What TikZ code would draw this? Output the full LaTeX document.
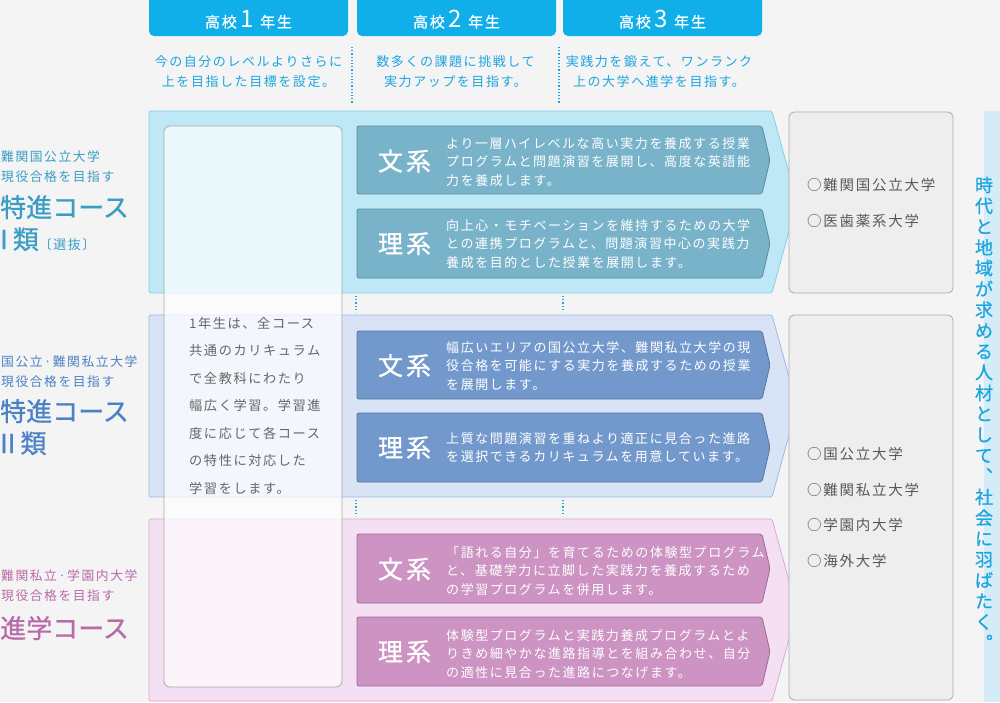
\documentclass[tikz,border=0pt]{standalone}
\usepackage{fontspec}
\setmainfont{Noto Sans CJK JP}
\newfontfamily\jp[LetterSpace=12]{Noto Sans CJK JP}
\newfontfamily\jpm[LetterSpace=12,FakeBold=0.8]{Noto Sans CJK JP}
\newfontfamily\jpmt[FakeBold=0.8]{Noto Sans CJK JP}
\usepackage{tikz}

\definecolor{pagebg}{HTML}{F4F4F4}
\definecolor{sky}{HTML}{10AFE9}
\definecolor{skytext}{HTML}{1CA5DF}
\definecolor{bandIfill}{HTML}{BFE8F7}
\definecolor{bandIline}{HTML}{86CFEB}
\definecolor{boxIfill}{HTML}{79B3CA}
\definecolor{boxIline}{HTML}{5B8CA0}
\definecolor{ttlI}{HTML}{3A9DC4}
\definecolor{bandIIfill}{HTML}{D8E4F5}
\definecolor{bandIIline}{HTML}{9DBAE3}
\definecolor{boxIIfill}{HTML}{7399CC}
\definecolor{boxIIline}{HTML}{56749F}
\definecolor{ttlII}{HTML}{4D81C5}
\definecolor{bandIIIfill}{HTML}{F4DFF3}
\definecolor{bandIIIline}{HTML}{D7ABD4}
\definecolor{boxIIIfill}{HTML}{CC93C3}
\definecolor{boxIIIline}{HTML}{9D6A95}
\definecolor{ttlIII}{HTML}{B96AA9}
\definecolor{goalfill}{HTML}{EEEEEE}
\definecolor{goalline}{HTML}{ABABAB}
\definecolor{goaltext}{HTML}{595959}
\definecolor{commonline}{HTML}{A9A9A9}
\definecolor{commontext}{HTML}{666666}
\definecolor{stripfill}{HTML}{D4ECF8}

\begin{document}
\begin{tikzpicture}[x=1pt,y=-1pt,line join=round,
  bandI/.style={fill=bandIfill,draw=bandIline,line width=0.8pt,rounded corners=1.5pt},
  bandII/.style={fill=bandIIfill,draw=bandIIline,line width=0.8pt,rounded corners=1.5pt},
  bandIII/.style={fill=bandIIIfill,draw=bandIIIline,line width=0.8pt,rounded corners=1.5pt},
  boxI/.style={fill=boxIfill,draw=boxIline,line width=0.8pt,rounded corners=2pt},
  boxII/.style={fill=boxIIfill,draw=boxIIline,line width=0.8pt,rounded corners=2pt},
  boxIII/.style={fill=boxIIIfill,draw=boxIIIline,line width=0.8pt,rounded corners=2pt},
  head/.style={text=white,font=\jpm\fontsize{15}{15}\selectfont,anchor=base,inner sep=0pt},
  lead/.style={text=skytext,font=\jp\fontsize{13}{20}\selectfont,align=center,anchor=base,inner sep=0pt},
  dotsep/.style={skytext,line width=1.2pt,dash pattern=on 1.2pt off 2pt},
  tag/.style={font=\jp\fontsize{12.8}{19.5}\selectfont,align=left,anchor=base west,inner sep=0pt},
  coursettl/.style={font=\jpmt\fontsize{26}{32}\selectfont,align=left,anchor=base west,inner sep=0pt},
  common/.style={fill=white,fill opacity=0.7,draw=commonline,draw opacity=1,line width=0.8pt,rounded corners=6pt},
  commontext/.style={text=commontext,font=\jp\fontsize{13.2}{27.5}\selectfont,align=left,anchor=base west,inner sep=0pt},
  kei/.style={text=white,font=\jpm\fontsize{25}{25}\selectfont,anchor=base,inner sep=0pt},
  desc/.style={text=white,font=\jp\fontsize{13}{18.5}\selectfont,align=left,anchor=base west,inner sep=0pt},
  goalbox/.style={fill=goalfill,draw=goalline,line width=0.8pt,rounded corners=5pt},
  goal/.style={text=goaltext,font=\jp\fontsize{14.5}{35.5}\selectfont,align=left,anchor=base west,inner sep=0pt},
  motto/.style={text=skytext,font=\jpmt\fontsize{18}{18}\selectfont,anchor=base,inner sep=0pt}]
  \useasboundingbox (0,0) rectangle (1000,702);
  \clip (0,0) rectangle (1000,702);
  \fill[pagebg] (0,0) rectangle (1000,702);

  % year heads
  \fill[sky,rounded corners=5pt] (149,-6) rectangle (348,36);
  \fill[sky,rounded corners=5pt] (357,-6) rectangle (556,36);
  \fill[sky,rounded corners=5pt] (563,-6) rectangle (762,36);
  \node[head] (h1) at (248.5,27.5) {高校\hspace{4pt}{\jp\fontsize{24}{24}\selectfont 1}\hspace{6pt}年生};
  \node[head] (h2) at (456.5,27.5) {高校\hspace{4pt}{\jp\fontsize{24}{24}\selectfont 2}\hspace{6pt}年生};
  \node[head] (h3) at (662.5,27.5) {高校\hspace{4pt}{\jp\fontsize{24}{24}\selectfont 3}\hspace{6pt}年生};
  % (base of a two-line node = its last line)
  \node[lead] (l1) at (248.5,86) {今の自分のレベルよりさらに\\上を目指した目標を設定。};
  \node[lead] (l2) at (455.5,86) {数多くの課題に挑戦して\\実力アップを目指す。};
  \node[lead] (l3) at (659,86) {実践力を鍛えて、ワンランク\\上の大学へ進学を目指す。};
  \draw[dotsep] (352,47) -- (352,103);
  \draw[dotsep] (559,47) -- (559,103);

  % course labels
  \node[tag,text=ttlI] (t1) at (1,181.4) {難関国公立大学\\現役合格を目指す};
  \node[coursettl,text=ttlI] (c1) at (0,249) {特進コース\\I\hspace{5pt}類{\jp\fontsize{13}{13}\selectfont〔選抜〕}};
  \node[tag,text=ttlII] (t2) at (1,386.4) {国公立·難関私立大学\\現役合格を目指す};
  \node[coursettl,text=ttlII] (c2) at (0,453) {特進コース\\II\hspace{5pt}類};
  \node[tag,text=ttlIII] (t3) at (1,600.4) {難関私立·学園内大学\\現役合格を目指す};
  \node[coursettl,text=ttlIII] (c3) at (0,637.9) {進学コース};

  % bands
  \draw[bandI] (149,111) -- (772,111) -- (797,202) -- (772,293) -- (149,293) -- cycle;
  \draw[bandII] (149,315) -- (772,315) -- (797,406) -- (772,497) -- (149,497) -- cycle;
  \draw[bandIII] (149,519) -- (772,519) -- (797,610) -- (772,701) -- (149,701) -- cycle;
  \draw[dotsep] (356,296) -- (356,312);
  \draw[dotsep] (563,296) -- (563,312);
  \draw[dotsep] (356,500) -- (356,516);
  \draw[dotsep] (563,500) -- (563,516);

  % first year, common to all
  \draw[common] (164,126) rectangle (342,687);
  \node[commontext] (cm) at (189,493) {1年生は、全コース\\共通のカリキュラム\\で全教科にわたり\\幅広く学習。学習進\\度に応じて各コース\\の特性に対応した\\学習をします。};

  % course boxes
  \draw[boxI] (357,126) -- (762,126) -- (770,160) -- (762,194) -- (357,194) -- cycle;
  \draw[boxI] (357,209) -- (762,209) -- (770,243.5) -- (762,278) -- (357,278) -- cycle;
  \draw[boxII] (357,331) -- (762,331) -- (770,365) -- (762,399) -- (357,399) -- cycle;
  \draw[boxII] (357,413) -- (762,413) -- (770,447.5) -- (762,482) -- (357,482) -- cycle;
  \draw[boxIII] (357,534) -- (762,534) -- (770,568.5) -- (762,603) -- (357,603) -- cycle;
  \draw[boxIII] (357,617) -- (762,617) -- (770,651.5) -- (762,686) -- (357,686) -- cycle;
  \node[kei] (k1a) at (404.5,170.5) {文系};
  \node[kei] (k1b) at (404.5,253) {理系};
  \node[kei] (k2a) at (404.5,375) {文系};
  \node[kei] (k2b) at (404.5,457) {理系};
  \node[kei] (k3a) at (404.5,578.5) {文系};
  \node[kei] (k3b) at (404.5,661) {理系};
  \node[desc] (d1a) at (446,185) {より一層ハイレベルな高い実力を養成する授業\\プログラムと問題演習を展開し、高度な英語能\\力を養成します。};
  \node[desc] (d1b) at (446,267) {向上心・モチベーションを維持するための大学\\との連携プログラムと、問題演習中心の実践力\\養成を目的とした授業を展開します。};
  \node[desc] (d2a) at (446,389) {幅広いエリアの国公立大学、難関私立大学の現\\役合格を可能にする実力を養成するための授業\\を展開します。};
  \node[desc] (d2b) at (446,461.5) {上質な問題演習を重ねより適正に見合った進路\\を選択できるカリキュラムを用意しています。};
  \node[desc] (d3a) at (446,594) {「語れる自分」を育てるための体験型プログラム\\と、基礎学力に立脚した実践力を養成するため\\の学習プログラムを併用します。};
  \node[desc] (d3b) at (446,677) {体験型プログラムと実践力養成プログラムとよ\\りきめ細やかな進路指導とを組み合わせ、自分\\の適性に見合った進路につなげます。};

  % goals
  \draw[goalbox] (789,112) rectangle (953,293);
  \draw[goalbox] (789,315) rectangle (953,700);
  \node[goal] (g1) at (807,226) {○難関国公立大学\\○医歯薬系大学};
  \node[goal] (g2) at (807,566) {○国公立大学\\○難関私立大学\\○学園内大学\\○海外大学};
  \fill[stripfill] (984,111) rectangle (1000,702);
  \foreach \ch [count=\i from 0] in {時,代,と,地,域,が,求,め,る,人,材,と,し,て,︑,社,会,に,羽,ば,た,く,︒}
    \node[motto] (m\i) at (984,{191.8+20.8*\i}) {\ch};
\end{tikzpicture}
\end{document}
